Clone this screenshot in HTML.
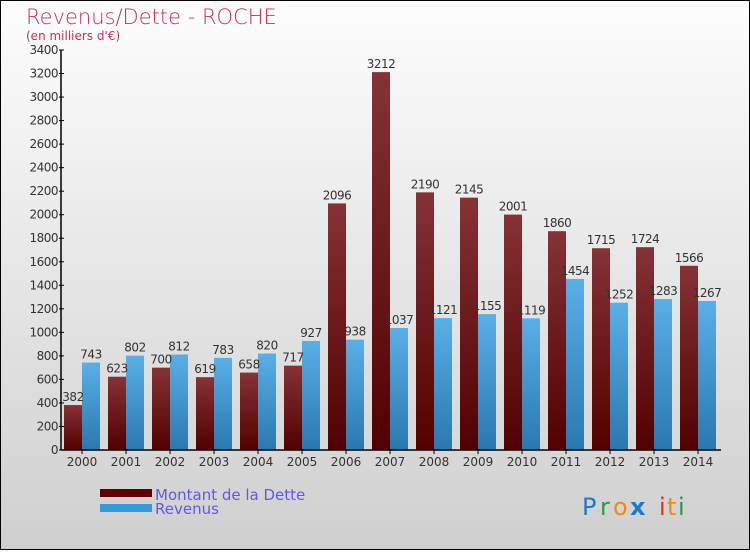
<!DOCTYPE html>
<html><head><meta charset="utf-8"><style>
body{margin:0;width:750px;height:550px;overflow:hidden;font-family:"DejaVu Sans","Liberation Sans",sans-serif}
</style></head><body>
<svg width="750" height="550" xmlns="http://www.w3.org/2000/svg">
<defs>
<linearGradient id="bg" x1="0" y1="0" x2="0" y2="1"><stop offset="0" stop-color="#fdfdfd"/><stop offset="1" stop-color="#cfcfcf"/></linearGradient>
<linearGradient id="gd" x1="0" y1="0" x2="0" y2="1"><stop offset="0" stop-color="#863236"/><stop offset="1" stop-color="#520000"/></linearGradient>
<linearGradient id="gr" x1="0" y1="0" x2="0" y2="1"><stop offset="0" stop-color="#5aafe6"/><stop offset="1" stop-color="#2a78b0"/></linearGradient>
</defs>
<rect x="0.5" y="0.5" width="749" height="549" fill="url(#bg)" stroke="#000"/>
<text x="26" y="24" font-size="21" fill="#c0306a" style="font-weight:200">Revenus/Dette - ROCHE</text>
<text x="26" y="40" font-size="12" fill="#c0306a">(en milliers d'€)</text>
<g id="plot"></g>
<rect x="100" y="489" width="52" height="8" fill="#600000"/>
<rect x="100" y="504" width="52" height="8" fill="#3399dd"/>
<text x="155" y="500" font-size="15" fill="#5a5aee">Montant de la Dette</text>
<text x="155" y="514" font-size="15" fill="#5a5aee">Revenus</text>
<g font-size="24" font-family="DejaVu Sans">
<text x="582" y="515" fill="#1a7ad0">P</text><text x="600" y="515" fill="#2a9a3a">r</text><text x="613" y="515" fill="#f08a10">o</text><text x="630" y="515" fill="#1a7ad0" font-weight="bold">x</text><text x="659" y="515" fill="#e03010">i</text><text x="667" y="515" fill="#f08a10">t</text><text x="678" y="515" fill="#2a9a3a">i</text>
</g>
</svg>
<script>
const years=["2000","2001","2002","2003","2004","2005","2006","2007","2008","2009","2010","2011","2012","2013","2014"];
const dette=[382,623,700,619,658,717,2096,3212,2190,2145,2001,1860,1715,1724,1566];
const revenus=[743,802,812,783,820,927,938,1037,1121,1155,1119,1454,1252,1283,1267];
const yTicks=[0,200,400,600,800,1000,1200,1400,1600,1800,2000,2200,2400,2600,2800,3000,3200,3400];
const NS="http://www.w3.org/2000/svg";
const g=document.getElementById('plot');
const y0=450,yTop=50,yMax=3400,x0=61,step=44,first=82;
const Y=v=>y0-(v/yMax)*(y0-yTop);
const X=i=>first+i*step;
function el(t,a,txt){const e=document.createElementNS(NS,t);for(const k in a)e.setAttribute(k,a[k]);if(txt!=null)e.textContent=txt;g.appendChild(e);return e;}
years.forEach((yr,i)=>{
 const cx=X(i);
 let b=el('rect',{x:cx-18,y:Y(dette[i]),width:18,height:y0-Y(dette[i]),fill:'url(#gd)'});
 
 
 let r=el('rect',{x:cx,y:Y(revenus[i]),width:18,height:y0-Y(revenus[i]),fill:'url(#gr)'});
 
 
 let t1=el('text',{x:cx-9,y:Y(dette[i])-4,'font-size':12,'text-anchor':'middle',fill:'#333','letter-spacing':'-0.5'},dette[i]);
 
 
 let t2=el('text',{x:cx+9,y:Y(revenus[i])-4,'font-size':12,'text-anchor':'middle',fill:'#333','letter-spacing':'-0.5'},revenus[i]);
 
 
 let tk=el('line',{x1:cx,x2:cx,y1:y0,y2:y0+4,stroke:'#000'});
 
 
 let xl=el('text',{x:cx,y:y0+16,'font-size':12,'text-anchor':'middle',fill:'#333'},yr);
 
 
});
yTicks.forEach(v=>{
 let l=el('line',{x1:x0-2,x2:x0+3,y1:Y(v),y2:Y(v),stroke:'#000'});
 
 
 let t=el('text',{x:x0-3,y:Y(v)+4,'font-size':12,'text-anchor':'end',fill:'#333','letter-spacing':'-0.5'},v);
 
 
});
let ya=el('line',{x1:x0,x2:x0,y1:yTop,y2:y0,stroke:'#000','stroke-width':1.5});


let xa=el('line',{x1:x0,x2:721,y1:y0,y2:y0,stroke:'#000','stroke-width':1.5});


</script>
</body></html>
